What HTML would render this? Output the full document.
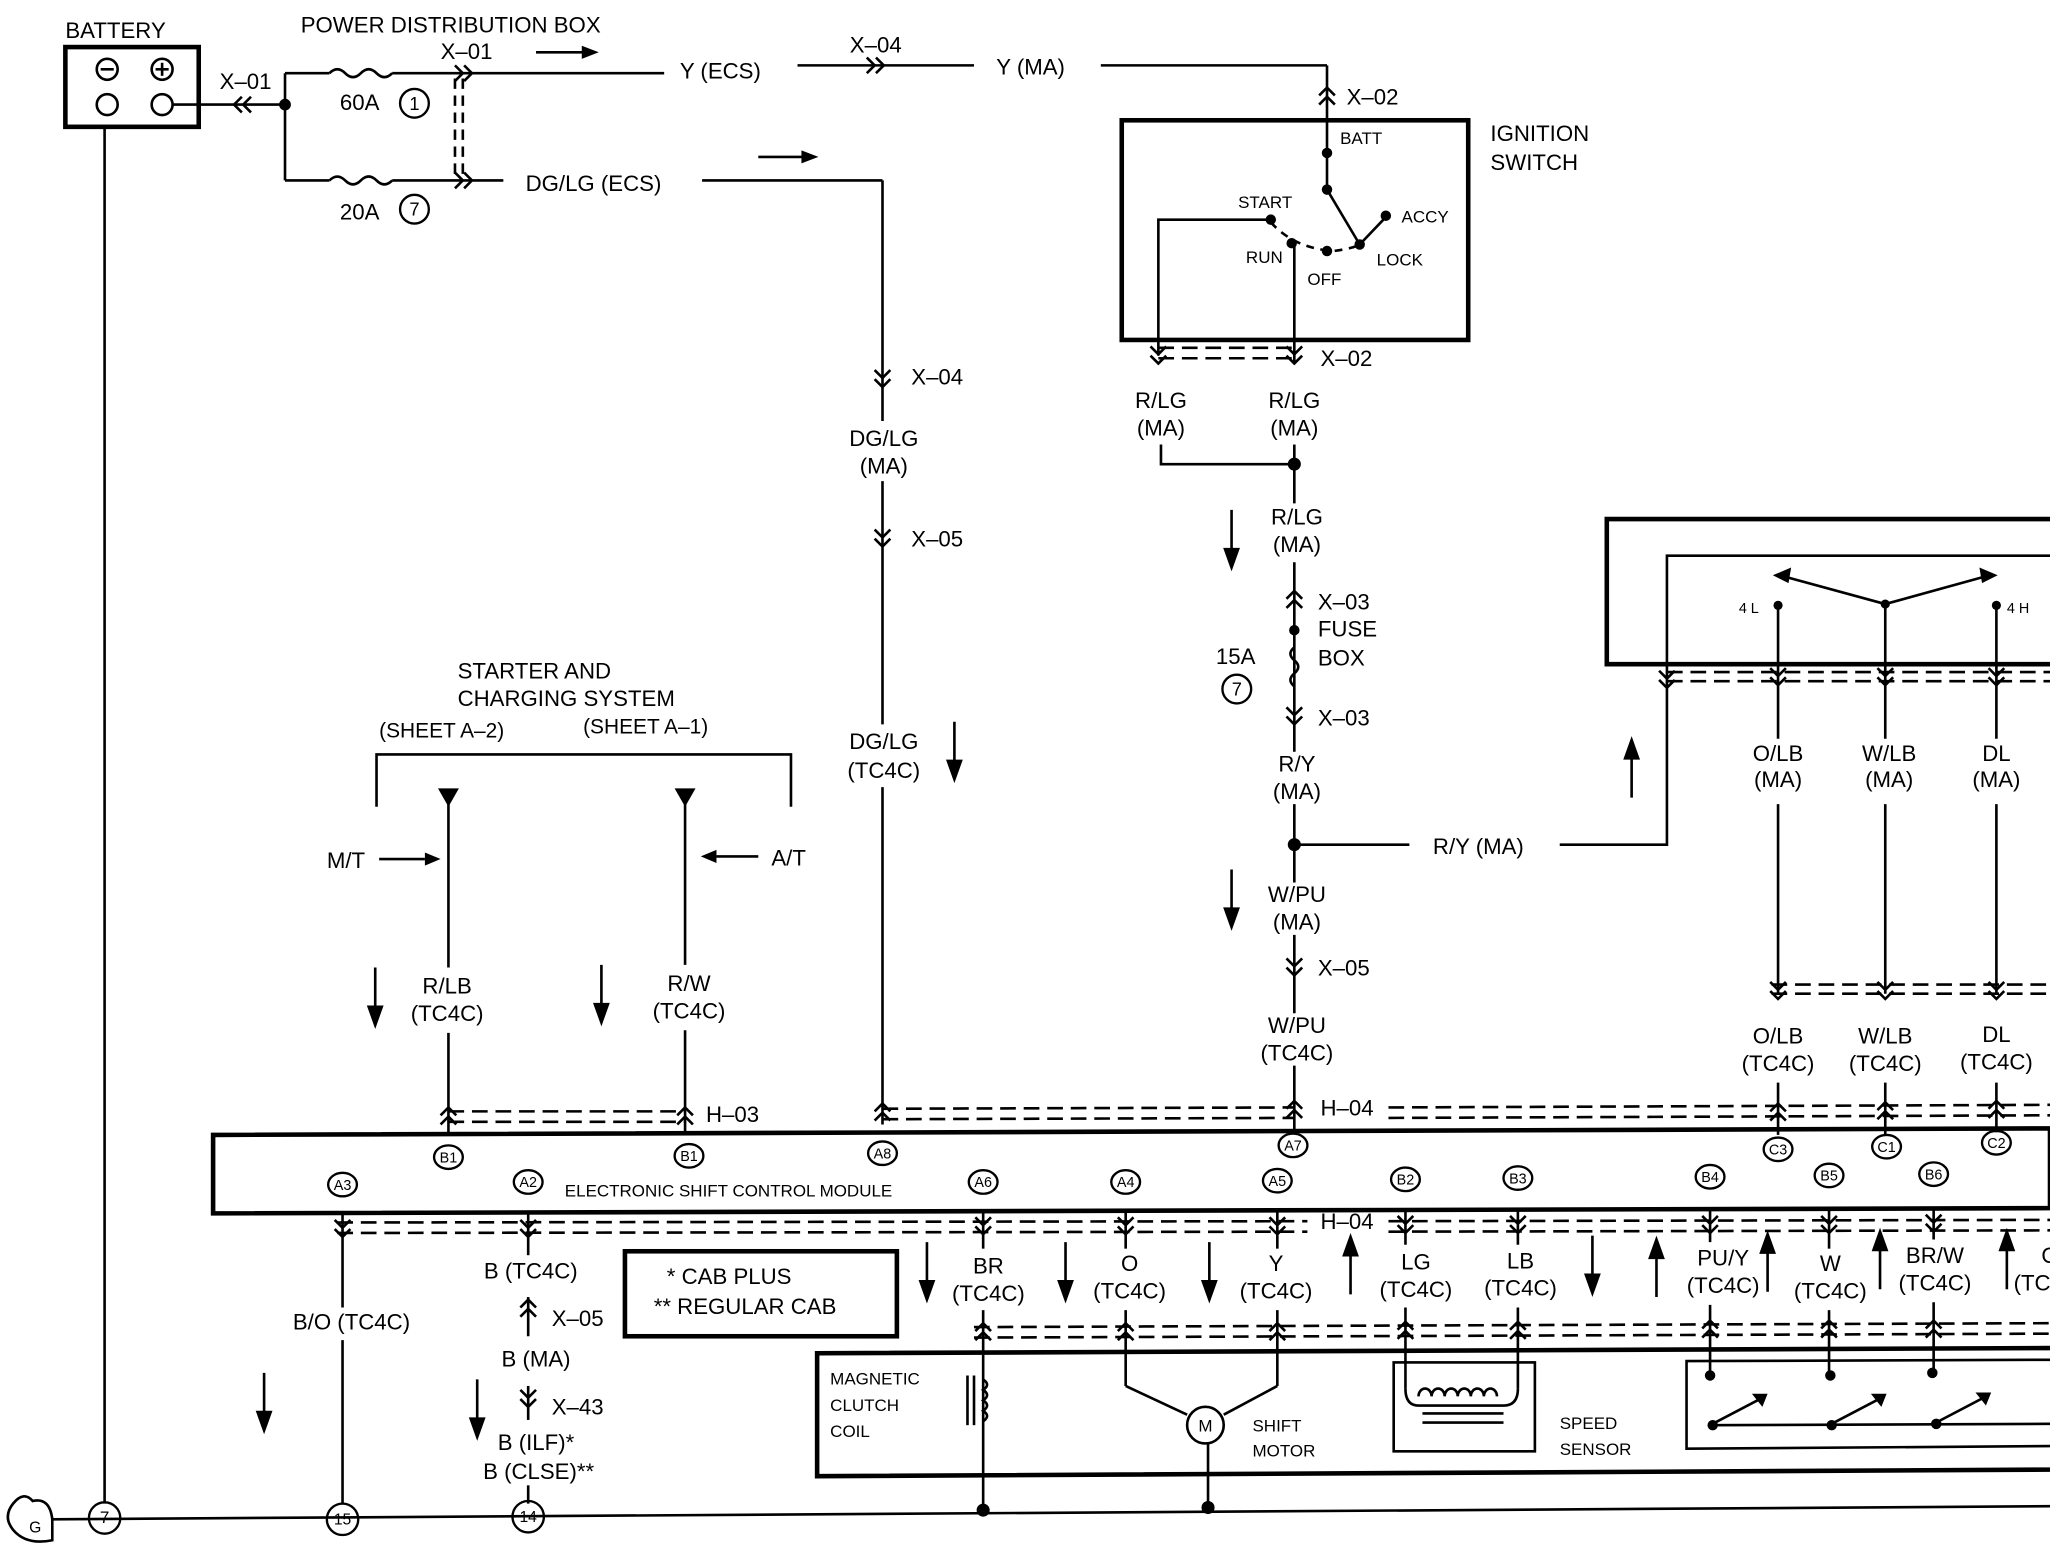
<!DOCTYPE html>
<html><head><meta charset="utf-8"><style>
html,body{margin:0;padding:0;background:#fff;}
svg{display:block}
text{font-family:"Liberation Sans",sans-serif;fill:#000;}
</style></head><body>
<svg width="2050" height="1552" viewBox="0 0 1568 1187" preserveAspectRatio="none" xmlns="http://www.w3.org/2000/svg">
<defs>
<path id="cd" d="M-6,-7 L0,-1 L6,-7 M-6,0 L0,6 L6,0" fill="none" stroke="#000" stroke-width="2"/>
<path id="cu" d="M-6,7 L0,1 L6,7 M-6,0 L0,-6 L6,0" fill="none" stroke="#000" stroke-width="2"/>
<path id="cl" d="M7,-6 L1,0 L7,6 M0,-6 L-6,0 L0,6" fill="none" stroke="#000" stroke-width="2"/>
<path id="cr" d="M-7,-6 L-1,0 L-7,6 M0,-6 L6,0 L0,6" fill="none" stroke="#000" stroke-width="2"/>
<path id="ad" d="M0,0 L0,40 M-5,30 L0,44 L5,30 Z" fill="#000" stroke="#000" stroke-width="2"/>
<path id="au" d="M0,0 L0,-40 M-5,-30 L0,-44 L5,-30 Z" fill="#000" stroke="#000" stroke-width="2"/>
</defs>
<rect width="1568" height="1187" fill="#fff"/>
<g stroke="#000" stroke-width="2" fill="none">
<!-- battery -->
<rect x="50" y="36" width="102" height="61" stroke-width="3.5"/>
<circle cx="82" cy="53" r="8"/><circle cx="124" cy="53" r="8"/><circle cx="82" cy="80" r="8"/><circle cx="124" cy="80" r="8"/>
<line x1="77" y1="53" x2="87" y2="53"/><line x1="119" y1="53" x2="129" y2="53"/><line x1="124" y1="48" x2="124" y2="58"/>
<line x1="80" y1="97" x2="80" y2="1150"/>
<line x1="132" y1="80" x2="218" y2="80"/>
<line x1="218" y1="56" x2="218" y2="138"/>
<line x1="218" y1="56" x2="252" y2="56"/><path d="M252,56 q6,-6 12,0 q6,6 12,0 q6,-6 12,0 q6,6 12,0"/>
<line x1="300" y1="56" x2="508" y2="56"/>
<line x1="218" y1="138" x2="252" y2="138"/><path d="M252,138 q6,-6 12,0 q6,6 12,0 q6,-6 12,0 q6,6 12,0"/>
<line x1="300" y1="138" x2="385" y2="138"/>
<line x1="348" y1="60" x2="348" y2="134" stroke-dasharray="8,5"/><line x1="354" y1="60" x2="354" y2="134" stroke-dasharray="8,5"/>
<line x1="410" y1="40" x2="447" y2="40"/>
<line x1="610" y1="50" x2="745" y2="50"/>
<line x1="842" y1="50" x2="1015" y2="50"/><line x1="1015" y1="50" x2="1015" y2="145"/>
<line x1="537" y1="138" x2="675" y2="138"/>
<line x1="675" y1="138" x2="675" y2="322"/><line x1="675" y1="368" x2="675" y2="554"/><line x1="675" y1="602" x2="675" y2="860"/>
<line x1="580" y1="120" x2="615" y2="120"/>
<!-- ignition -->
<rect x="858" y="92" width="265" height="168" stroke-width="3.5"/>
<line x1="1015" y1="145" x2="1040" y2="187"/>
<line x1="1040" y1="187" x2="1060" y2="166"/>
<path d="M972,170 Q990,190 1020,192 Q1035,190 1040,187" stroke-dasharray="6,5"/>
<polyline points="972,168 886,168 886,272"/>
<line x1="990" y1="188" x2="990" y2="278"/><line x1="990" y1="340" x2="990" y2="355"/>
<polyline points="888,340 888,355 990,355"/>
<line x1="886" y1="266" x2="990" y2="266" stroke-dasharray="12,6"/><line x1="886" y1="274" x2="990" y2="274" stroke-dasharray="12,6"/>
<line x1="990" y1="355" x2="990" y2="385"/><line x1="990" y1="430" x2="990" y2="575"/>
<line x1="990" y1="615" x2="990" y2="675"/><line x1="990" y1="715" x2="990" y2="775"/><line x1="990" y1="815" x2="990" y2="865"/>
<path d="M990,495 q-6,5 0,10 q6,5 0,10 q-6,5 0,10" />
<line x1="990" y1="646" x2="1078" y2="646"/>
<polyline points="1193,646 1275,646 1275,425 1568,425"/>
<!-- right box -->
<polyline points="1568,397 1229,397 1229,508 1568,508" stroke-width="3.5"/>
<line x1="1442" y1="462" x2="1365" y2="441"/><line x1="1442" y1="462" x2="1518" y2="441"/>
<line x1="1360" y1="463" x2="1360" y2="565"/><line x1="1442" y1="462" x2="1442" y2="565"/><line x1="1527" y1="463" x2="1527" y2="565"/>
<line x1="1360" y1="615" x2="1360" y2="760"/><line x1="1442" y1="615" x2="1442" y2="760"/><line x1="1527" y1="615" x2="1527" y2="760"/>
<line x1="1275" y1="514" x2="1568" y2="514" stroke-dasharray="12,6"/><line x1="1275" y1="521" x2="1568" y2="521" stroke-dasharray="12,6"/>
<line x1="1355" y1="753" x2="1568" y2="753" stroke-dasharray="12,6"/><line x1="1355" y1="760" x2="1568" y2="760" stroke-dasharray="12,6"/>
<line x1="1360" y1="828" x2="1360" y2="868"/><line x1="1442" y1="828" x2="1442" y2="868"/><line x1="1527" y1="828" x2="1527" y2="866"/>
<!-- starter -->
<polyline points="288,617 288,577 605,577 605,617"/>
<line x1="343" y1="610" x2="343" y2="740"/><line x1="343" y1="790" x2="343" y2="868"/>
<line x1="524" y1="610" x2="524" y2="738"/><line x1="524" y1="788" x2="524" y2="868"/>
<line x1="290" y1="657" x2="325" y2="657"/><line x1="580" y1="655" x2="548" y2="655"/>
<!-- H-03/H-04 top dashed -->
<line x1="343" y1="850" x2="524" y2="850" stroke-dasharray="12,6"/><line x1="343" y1="858" x2="524" y2="858" stroke-dasharray="12,6"/>
<line x1="675" y1="848" x2="990" y2="847" stroke-dasharray="12,6"/><line x1="675" y1="856" x2="990" y2="855" stroke-dasharray="12,6"/>
<line x1="1062" y1="847" x2="1568" y2="845" stroke-dasharray="12,6"/><line x1="1062" y1="855" x2="1568" y2="853" stroke-dasharray="12,6"/>
<!-- ESCM -->
<polygon points="163,868 1568,863 1568,924 163,928" stroke-width="3.5"/>
<line x1="258" y1="935" x2="1000" y2="934" stroke-dasharray="12,6"/><line x1="258" y1="943" x2="1000" y2="942" stroke-dasharray="12,6"/>
<line x1="1062" y1="934" x2="1568" y2="933" stroke-dasharray="12,6"/><line x1="1062" y1="942" x2="1568" y2="941" stroke-dasharray="12,6"/>
<line x1="262" y1="928" x2="262" y2="1000"/><line x1="262" y1="1025" x2="262" y2="1150"/>
<line x1="404" y1="928" x2="404" y2="960"/><line x1="404" y1="992" x2="404" y2="1022"/><line x1="404" y1="1060" x2="404" y2="1086"/><line x1="404" y1="1136" x2="404" y2="1150"/>
<line x1="752" y1="926" x2="752" y2="955"/><line x1="861" y1="926" x2="861" y2="955"/><line x1="977" y1="926" x2="977" y2="955"/>
<line x1="1075" y1="925" x2="1075" y2="952"/><line x1="1161" y1="925" x2="1161" y2="952"/>
<line x1="1308" y1="924" x2="1308" y2="950"/><line x1="1399" y1="924" x2="1399" y2="955"/><line x1="1479" y1="924" x2="1479" y2="948"/>
<rect x="478" y="957" width="208" height="65" stroke-width="3.5"/>
<line x1="745" y1="1015" x2="1568" y2="1012" stroke-dasharray="12,6"/><line x1="745" y1="1023" x2="1568" y2="1020" stroke-dasharray="12,6"/>
<line x1="752" y1="1002" x2="752" y2="1155"/><line x1="861" y1="1002" x2="861" y2="1060"/><line x1="977" y1="1002" x2="977" y2="1060"/>
<line x1="1075" y1="1000" x2="1075" y2="1062"/><line x1="1161" y1="1000" x2="1161" y2="1062"/>
<line x1="1308" y1="998" x2="1308" y2="1052"/><line x1="1399" y1="1002" x2="1399" y2="1052"/><line x1="1479" y1="996" x2="1479" y2="1050"/>
<!-- lower box -->
<polyline points="1568,1031 625,1035 625,1129 1568,1124" stroke-width="3.5"/>
<line x1="740" y1="1052" x2="740" y2="1090"/><line x1="745" y1="1052" x2="745" y2="1090"/>
<path d="M752,1055 q6,4 0,8 q6,4 0,8 q6,4 0,8 q6,4 0,8"/>
<polyline points="861,1060 908,1082"/><polyline points="977,1060 936,1082"/>
<circle cx="922" cy="1090" r="14"/>
<line x1="924" y1="1104" x2="924" y2="1153"/>
<rect x="1066" y="1042" width="108" height="68"/>
<path d="M1075,1062 Q1075,1075 1085,1075 L1150,1075 Q1161,1075 1161,1062"/>
<path d="M1085,1068 a5,6 0 1,1 10,0 a5,6 0 1,1 10,0 a5,6 0 1,1 10,0 a5,6 0 1,1 10,0 a5,6 0 1,1 10,0 a5,6 0 1,1 10,0"/>
<line x1="1088" y1="1081" x2="1150" y2="1081"/><line x1="1088" y1="1088" x2="1150" y2="1088"/>
<polyline points="1568,1040 1290,1041 1290,1108 1568,1106"/>
<line x1="1308" y1="1090" x2="1568" y2="1089"/>
<line x1="1308" y1="1090" x2="1350" y2="1068"/><line x1="1399" y1="1090" x2="1441" y2="1068"/><line x1="1479" y1="1089" x2="1521" y2="1067"/>
<!-- ground -->
<line x1="40" y1="1162" x2="1568" y2="1152"/>
<path d="M40,1162 Q38,1145 25,1148 Q18,1140 10,1150 Q2,1160 10,1170 Q20,1182 40,1178 Z"/>
</g>
<!-- fills -->
<g fill="#000">
<circle cx="218" cy="80" r="4.5"/><circle cx="1015" cy="117" r="4"/><circle cx="1015" cy="145" r="4"/><circle cx="972" cy="168" r="4"/>
<circle cx="988" cy="186" r="4"/><circle cx="1015" cy="192" r="4"/><circle cx="1040" cy="187" r="4"/><circle cx="1060" cy="165" r="4"/>
<circle cx="990" cy="355" r="5"/><circle cx="990" cy="482" r="4"/><circle cx="990" cy="646" r="5"/>
<circle cx="1360" cy="463" r="3.5"/><circle cx="1442" cy="462" r="3.5"/><circle cx="1527" cy="463" r="3.5"/>
<polygon points="1356,440 1370,434 1368,446"/><polygon points="1528,440 1514,434 1516,446"/>
<polygon points="335,603 351,603 343,617"/><polygon points="516,603 532,603 524,617"/>
<polygon points="445,35 445,45 458,40"/><polygon points="613,115 613,125 626,120"/>
<polygon points="325,652 325,662 337,657"/><polygon points="548,650 548,660 536,655"/>
<circle cx="752" cy="1155" r="5"/><circle cx="924" cy="1153" r="5"/>
<circle cx="1308" cy="1052" r="4"/><circle cx="1400" cy="1052" r="4"/><circle cx="1478" cy="1050" r="4"/>
<circle cx="1310" cy="1090" r="4"/><circle cx="1401" cy="1090" r="4"/><circle cx="1481" cy="1089" r="4"/>
<polygon points="1352,1066 1340,1066 1348,1076"/><polygon points="1443,1066 1431,1066 1439,1076"/><polygon points="1523,1065 1511,1065 1519,1075"/>
</g>
<!-- connectors -->
<use href="#cl" x="185" y="80"/><use href="#cr" x="355" y="56"/><use href="#cr" x="355" y="138"/><use href="#cr" x="670" y="50"/>
<use href="#cu" x="1015" y="73"/><use href="#cd" x="886" y="272"/><use href="#cd" x="990" y="272"/>
<use href="#cd" x="675" y="290"/><use href="#cd" x="675" y="412"/>
<use href="#cu" x="990" y="458"/><use href="#cd" x="990" y="548"/><use href="#cd" x="990" y="740"/><use href="#cu" x="990" y="848"/>
<use href="#cu" x="343" y="853"/><use href="#cu" x="524" y="853"/><use href="#cu" x="675" y="850"/>
<use href="#cu" x="1360" y="850"/><use href="#cu" x="1442" y="849"/><use href="#cu" x="1527" y="848"/>
<use href="#cd" x="1275" y="520"/><use href="#cd" x="1360" y="518"/><use href="#cd" x="1442" y="518"/><use href="#cd" x="1527" y="518"/>
<use href="#cd" x="1360" y="758"/><use href="#cd" x="1442" y="758"/><use href="#cd" x="1527" y="758"/>
<use href="#cd" x="262" y="940"/><use href="#cd" x="404" y="940"/><use href="#cd" x="752" y="938"/><use href="#cd" x="861" y="938"/><use href="#cd" x="977" y="938"/>
<use href="#cd" x="1075" y="937"/><use href="#cd" x="1161" y="937"/><use href="#cd" x="1308" y="937"/><use href="#cd" x="1399" y="937"/><use href="#cd" x="1479" y="936"/>
<use href="#cu" x="404" y="1000"/><use href="#cd" x="404" y="1070"/>
<use href="#cu" x="752" y="1018"/><use href="#cu" x="861" y="1018"/><use href="#cu" x="977" y="1018"/><use href="#cu" x="1075" y="1017"/><use href="#cu" x="1161" y="1017"/>
<use href="#cu" x="1308" y="1016"/><use href="#cu" x="1399" y="1016"/><use href="#cu" x="1479" y="1016"/>
<!-- arrows -->
<use href="#ad" x="942" y="390"/><use href="#ad" x="942" y="665"/><use href="#ad" x="730" y="552"/>
<use href="#ad" x="287" y="740"/><use href="#ad" x="460" y="738"/><use href="#au" x="1248" y="610"/>
<use href="#ad" x="202" y="1050"/><use href="#ad" x="365" y="1055"/>
<use href="#ad" x="709" y="950"/><use href="#ad" x="815" y="950"/><use href="#ad" x="925" y="950"/><use href="#au" x="1033" y="990"/>
<use href="#ad" x="1218" y="945"/><use href="#au" x="1267" y="992"/><use href="#au" x="1352" y="988"/><use href="#au" x="1438" y="986"/><use href="#au" x="1535" y="986"/>
<!-- circled numbers -->
<g fill="none" stroke="#000" stroke-width="1.8">
<circle cx="317" cy="79" r="11"/><circle cx="317" cy="160" r="11"/><circle cx="946" cy="527" r="11"/>
<circle cx="80" cy="1161" r="12"/><circle cx="262" cy="1162" r="12"/><circle cx="404" cy="1160" r="12"/>
<ellipse cx="343" cy="885" rx="11" ry="9"/><ellipse cx="527" cy="884" rx="11" ry="9"/><ellipse cx="675" cy="882" rx="11" ry="9"/>
<ellipse cx="989" cy="876" rx="11" ry="9"/><ellipse cx="1360" cy="879" rx="11" ry="9"/><ellipse cx="1443" cy="877" rx="11" ry="9"/><ellipse cx="1527" cy="874" rx="11" ry="9"/>
<ellipse cx="262" cy="906" rx="11" ry="9"/><ellipse cx="404" cy="904" rx="11" ry="9"/><ellipse cx="752" cy="904" rx="11" ry="9"/>
<ellipse cx="861" cy="904" rx="11" ry="9"/><ellipse cx="977" cy="903" rx="11" ry="9"/><ellipse cx="1075" cy="902" rx="11" ry="9"/>
<ellipse cx="1161" cy="901" rx="11" ry="9"/><ellipse cx="1308" cy="900" rx="11" ry="9"/><ellipse cx="1399" cy="899" rx="11" ry="9"/><ellipse cx="1479" cy="898" rx="11" ry="9"/>
</g>
<g font-size="11" text-anchor="middle">
<text x="343" y="889">B1</text><text x="527" y="888">B1</text><text x="675" y="886">A8</text><text x="989" y="880">A7</text>
<text x="1360" y="883">C3</text><text x="1443" y="881">C1</text><text x="1527" y="878">C2</text>
<text x="262" y="910">A3</text><text x="404" y="908">A2</text><text x="752" y="908">A6</text><text x="861" y="908">A4</text><text x="977" y="907">A5</text>
<text x="1075" y="906">B2</text><text x="1161" y="905">B3</text><text x="1308" y="904">B4</text><text x="1399" y="903">B5</text><text x="1479" y="902">B6</text>
<text x="80" y="1165" font-size="13">7</text><text x="262" y="1166" font-size="12">15</text><text x="404" y="1164" font-size="12">14</text>
<text x="317" y="84" font-size="14">1</text><text x="317" y="165" font-size="14">7</text><text x="946" y="532" font-size="14">7</text>
<text x="27" y="1172" font-size="12">G</text><text x="922" y="1095" font-size="13">M</text>
</g>
<!-- labels -->
<g font-size="17">
<text x="50" y="29">BATTERY</text>
<text x="230" y="25">POWER DISTRIBUTION BOX</text>
<text x="337" y="45">X–01</text><text x="168" y="68">X–01</text>
<text x="260" y="84">60A</text><text x="260" y="168">20A</text>
<text x="520" y="60">Y (ECS)</text><text x="650" y="40">X–04</text><text x="762" y="57">Y (MA)</text>
<text x="402" y="146">DG/LG (ECS)</text>
<text x="1030" y="80">X–02</text>
<text x="1140" y="108">IGNITION</text><text x="1140" y="130">SWITCH</text>
<text x="1010" y="280">X–02</text>
<text x="697" y="294">X–04</text><text x="697" y="418">X–05</text>
<text x="1008" y="466">X–03</text><text x="1008" y="487">FUSE</text><text x="1008" y="509">BOX</text><text x="930" y="508">15A</text>
<text x="1008" y="555">X–03</text><text x="1008" y="746">X–05</text><text x="1010" y="853">H–04</text>
<text x="1096" y="653">R/Y (MA)</text>
<text x="350" y="519">STARTER AND</text><text x="350" y="540">CHARGING SYSTEM</text>
<text x="290" y="564" font-size="16">(SHEET A–2)</text><text x="446" y="561" font-size="16">(SHEET  A–1)</text>
<text x="250" y="664">M/T</text><text x="590" y="662">A/T</text>
<text x="540" y="858">H–03</text><text x="1010" y="940">H–04</text>
<text x="422" y="1014">X–05</text><text x="422" y="1082">X–43</text>
<text x="224" y="1017">B/O (TC4C)</text>
<text x="510" y="982">*  CAB PLUS</text><text x="500" y="1005">**  REGULAR CAB</text>
</g>
<g font-size="17" text-anchor="middle">
<text x="888" y="312">R/LG</text><text x="888" y="333">(MA)</text><text x="990" y="312">R/LG</text><text x="990" y="333">(MA)</text>
<text x="676" y="341">DG/LG</text><text x="676" y="362">(MA)</text>
<text x="992" y="401">R/LG</text><text x="992" y="422">(MA)</text>
<text x="676" y="573">DG/LG</text><text x="676" y="595">(TC4C)</text>
<text x="992" y="590">R/Y</text><text x="992" y="611">(MA)</text>
<text x="992" y="690">W/PU</text><text x="992" y="711">(MA)</text>
<text x="992" y="790">W/PU</text><text x="992" y="811">(TC4C)</text>
<text x="342" y="760">R/LB</text><text x="342" y="781">(TC4C)</text>
<text x="527" y="758">R/W</text><text x="527" y="779">(TC4C)</text>
<text x="1360" y="582">O/LB</text><text x="1360" y="602">(MA)</text><text x="1445" y="582">W/LB</text><text x="1445" y="602">(MA)</text>
<text x="1527" y="582">DL</text><text x="1527" y="602">(MA)</text>
<text x="1360" y="798">O/LB</text><text x="1360" y="819">(TC4C)</text><text x="1442" y="798">W/LB</text><text x="1442" y="819">(TC4C)</text>
<text x="1527" y="797">DL</text><text x="1527" y="818">(TC4C)</text>
<text x="406" y="978">B (TC4C)</text><text x="410" y="1045">B (MA)</text>
<text x="410" y="1109">B (ILF)*</text><text x="412" y="1131">B (CLSE)**</text>
<text x="756" y="974">BR</text><text x="756" y="995">(TC4C)</text>
<text x="864" y="972">O</text><text x="864" y="993">(TC4C)</text>
<text x="976" y="972">Y</text><text x="976" y="993">(TC4C)</text>
<text x="1083" y="971">LG</text><text x="1083" y="992">(TC4C)</text>
<text x="1163" y="970">LB</text><text x="1163" y="991">(TC4C)</text>
<text x="1318" y="968">PU/Y</text><text x="1318" y="989">(TC4C)</text>
<text x="1400" y="972">W</text><text x="1400" y="993">(TC4C)</text>
<text x="1480" y="966">BR/W</text><text x="1480" y="987">(TC4C)</text>
<text x="1568" y="966">O</text><text x="1568" y="987">(TC4C)</text>
</g>
<g font-size="13">
<text x="1025" y="110">BATT</text><text x="947" y="159">START</text><text x="1072" y="170">ACCY</text>
<text x="953" y="201">RUN</text><text x="1000" y="218">OFF</text><text x="1053" y="203">LOCK</text>
<text x="1330" y="469" font-size="11">4 L</text><text x="1535" y="469" font-size="11">4 H</text>
<text x="432" y="915">ELECTRONIC SHIFT CONTROL MODULE</text>
<text x="635" y="1059">MAGNETIC</text><text x="635" y="1079">CLUTCH</text><text x="635" y="1099">COIL</text>
<text x="958" y="1095">SHIFT</text><text x="958" y="1114">MOTOR</text>
<text x="1193" y="1093">SPEED</text><text x="1193" y="1113">SENSOR</text>
</g>
</svg>
</body></html>
